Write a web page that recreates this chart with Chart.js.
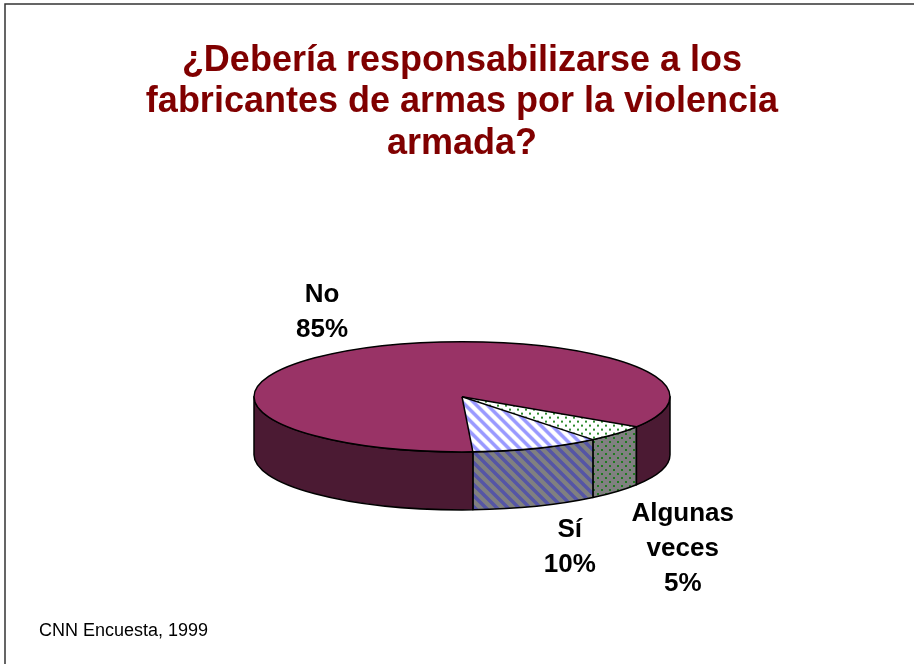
<!DOCTYPE html>
<html>
<head>
<meta charset="utf-8">
<script src="https://cdn.jsdelivr.net/npm/chart.js@4.4.0/dist/chart.umd.min.js"></script>
<style>
    html, body { margin: 0; padding: 0; background: #fff; }
</style>
</head>
<body>
<canvas id="pollChart" width="914" height="664"></canvas>
<script>
// Datos de la encuesta
const categories = ['Algunas veces', 'Sí', 'No'];
const shares = [5, 10, 85];
const labelLines = [['Algunas', 'veces', '5%'], ['Sí', '10%'], ['No', '85%']];

const TILT = 0.265;   // aplastamiento vertical de la elipse
const DEPTH = 58;     // grosor del "pastel"

// Tramas (puntos y rayas)

function makeStripes(bg, fg) {
    const n = 11;
    const c = document.createElement('canvas');
    c.width = n; c.height = n;
    const g = c.getContext('2d');
    g.fillStyle = bg;
    g.fillRect(0, 0, n, n);
    g.strokeStyle = fg;
    g.lineWidth = 3.5;
    g.beginPath();
    g.moveTo(-3, -3); g.lineTo(n + 3, n + 3);
    g.moveTo(-3, n - 3); g.lineTo(3, n + 3);
    g.moveTo(n - 3, -3); g.lineTo(n + 3, 3);
    g.stroke();
    return g.createPattern(c, 'repeat');
}

function makeDots(bg, fg) {
    const c = document.createElement('canvas');
    c.width = 8; c.height = 8;
    const g = c.getContext('2d');
    g.fillStyle = bg;
    g.fillRect(0, 0, 8, 8);
    g.fillStyle = fg;
    g.fillRect(1, 1, 2, 2);
    g.fillRect(5, 5, 2, 2);
    return g.createPattern(c, 'repeat');
}

const topFill = [makeDots('#ffffff', '#2e8b2e'), makeStripes('#ffffff', '#9999ff'), '#993366'];
const sideFill = [makeDots('#808080', '#1f7a1f'), makeStripes('#808080', '#5555a5'), '#4b1a33'];

// компенсируем сжатие для трамы на верхней грани
topFill.forEach(p => {
    if (typeof p !== 'string') p.setTransform(new DOMMatrix([1, 0, 0, 1 / TILT, 0, 0]));
});

// Plugin 3D

const pie3d = {
    id: 'pie3d',
    beforeDraw(chart) {
        const ctx = chart.ctx;
        ctx.save();
        ctx.fillStyle = '#fff';
        ctx.fillRect(0, 0, chart.width, chart.height);
        ctx.strokeStyle = '#333';
        ctx.lineWidth = 1.5;
        ctx.beginPath();
        ctx.moveTo(5, chart.height);
        ctx.lineTo(5, 4);
        ctx.lineTo(chart.width, 4);
        ctx.stroke();
        ctx.restore();
    },
    beforeDatasetsDraw(chart) {
        const ctx = chart.ctx;
        const arcs = chart.getDatasetMeta(0).data;
        const cx = arcs[0].x, cy = arcs[0].y, r = arcs[0].outerRadius;
        const ry = r * TILT;

        ctx.save();
        ctx.lineWidth = 1.5;
        ctx.strokeStyle = '#000';
        ctx.lineJoin = 'round';
        arcs.forEach((arc, i) => {
            for (const base of [-2 * Math.PI, 0, 2 * Math.PI, 4 * Math.PI]) {
                const a0 = Math.max(arc.startAngle, base);
                const a1 = Math.min(arc.endAngle, base + Math.PI);
                if (a1 <= a0) continue;
                ctx.beginPath();
                ctx.ellipse(cx, cy, r, ry, 0, a0, a1, false);
                ctx.lineTo(cx + r * Math.cos(a1), cy + ry * Math.sin(a1) + DEPTH);
                ctx.ellipse(cx, cy + DEPTH, r, ry, 0, a1, a0, true);
                ctx.closePath();
                ctx.fillStyle = sideFill[i];
                ctx.fill();
                ctx.stroke();
            }
        });
        ctx.restore();

        ctx.save();
        ctx.translate(cx, cy);
        ctx.scale(1, TILT);
        ctx.translate(-cx, -cy);
    },
    afterDatasetsDraw(chart) {
        const ctx = chart.ctx;
        ctx.restore();

        const arcs = chart.getDatasetMeta(0).data;
        const cx = arcs[0].x, cy = arcs[0].y, r = arcs[0].outerRadius;
        const ry = r * TILT;

        // contornos
        ctx.save();
        ctx.lineWidth = 1.5;
        ctx.strokeStyle = '#000';
        ctx.beginPath();
        ctx.ellipse(cx, cy, r, ry, 0, 0, 2 * Math.PI);
        ctx.stroke();
        arcs.forEach(arc => {
            ctx.beginPath();
            ctx.moveTo(cx, cy);
            ctx.lineTo(cx + r * Math.cos(arc.startAngle), cy + ry * Math.sin(arc.startAngle));
            ctx.stroke();
        });
        ctx.restore();

        // etiquetas
        ctx.save();
        ctx.font = 'bold 26px "Liberation Sans", Arial, sans-serif';
        ctx.fillStyle = '#000';
        ctx.textAlign = 'center';
        ctx.textBaseline = 'middle';
        const lh = 35;
        arcs.forEach((arc, i) => {
            const mid = (arc.startAngle + arc.endAngle) / 2;
            const c = Math.cos(mid), s = Math.sin(mid);
            const lines = labelLines[i];
            const w = Math.max(...lines.map(t => ctx.measureText(t).width));
            const h = lines.length * lh;
            const ax = cx + r * c + c * 20;
            const ay = cy + ry * s + (s > 0 ? DEPTH : 0) + s * 4 + 2;
            const left = c < 0 ? ax - w : ax;
            const top = s < 0 ? ay - h : ay;
            lines.forEach((t, j) => ctx.fillText(t, left + w / 2, top + lh * (j + 0.5)));
        });
        ctx.restore();
    },
    afterDraw(chart) {
        const ctx = chart.ctx;
        ctx.save();
        ctx.font = '18px "Liberation Sans", Arial, sans-serif';
        ctx.fillStyle = '#000';
        ctx.textAlign = 'left';
        ctx.textBaseline = 'middle';
        ctx.fillText('CNN Encuesta, 1999', 39, 631);
        ctx.restore();
    }
};

// Диаграмма

const pollChart = document.getElementById('pollChart');
const pollData = {
    labels: categories,
    datasets: [
        {
            label: 'Encuesta',
            data: shares,
            backgroundColor: topFill,
            borderWidth: 0,
            hoverOffset: 0,
        }
    ]
};

const pollChartConfig = {
    type: 'pie',
    data: pollData,
    options: {
        responsive: false,
        animation: false,
        devicePixelRatio: 1,
        rotation: 123,
        radius: 208,
        layout: {
            padding: { left: 10, right: 0, top: 0, bottom: 35 },
        },
        plugins: {
            legend: { display: false },
            tooltip: { enabled: false },
            title: {
                display: true,
                text: ['¿Debería responsabilizarse a los', 'fabricantes de armas por la violencia', 'armada?'],
                color: '#800000',
                font: {
                    family: '"Liberation Sans", Arial, sans-serif',
                    size: 36,
                    weight: 'bold',
                    lineHeight: 1.153,
                },
                padding: { top: 40, bottom: 0 },
            },
        },
    },
    plugins: [pie3d],
}

new Chart(pollChart, pollChartConfig);
</script>
</body>
</html>
